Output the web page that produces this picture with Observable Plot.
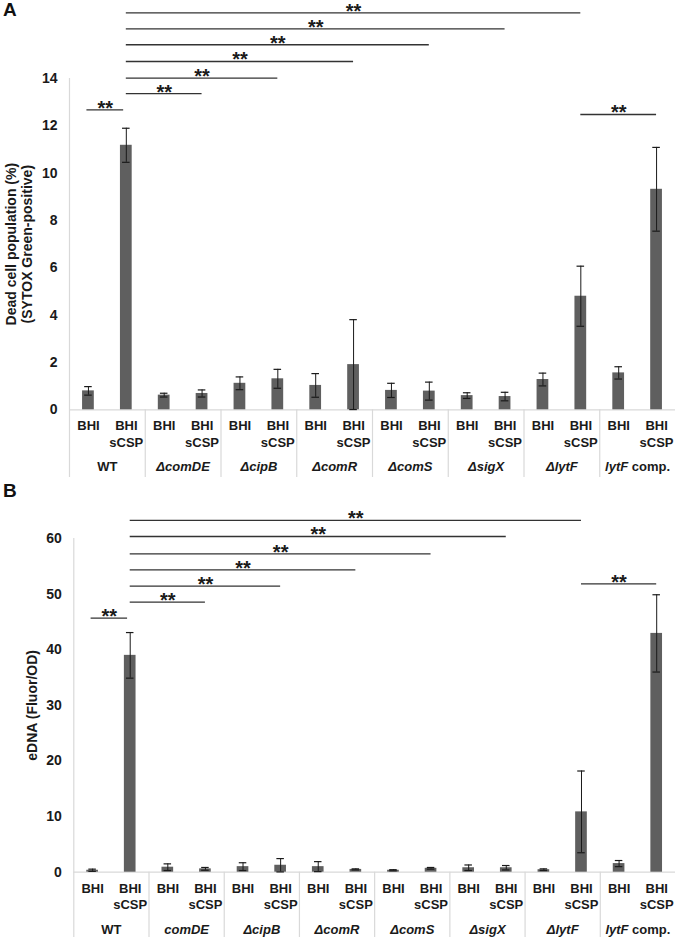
<!DOCTYPE html>
<html><head><meta charset="utf-8">
<script src="https://cdn.jsdelivr.net/npm/d3@7"></script>
<script src="https://cdn.jsdelivr.net/npm/@observablehq/plot@0.6"></script>
<style>
body{margin:0;background:#fff;font-family:"Liberation Sans",Arial,sans-serif;}
#wrap{position:relative;width:675px;height:937px;overflow:hidden;}
#a,#b{position:absolute;left:0;}
#a{top:0}
#b{top:480px}
#a svg,#b svg{display:block}
.panel{position:absolute;left:3px;font-weight:bold;font-size:19px;line-height:1.1;color:#111;font-family:"Liberation Sans",Arial,sans-serif;}
</style></head><body>
<div id="wrap">
<div id="a"></div><div id="b"></div>
<div class="panel" style="top:0px">A</div>
<div class="panel" style="top:481px">B</div>
</div>
<script>
// ---- data ----
const conditions = ["BHI", "BHI sCSP"];
const groupsA = ["WT", "ΔcomDE", "ΔcipB", "ΔcomR", "ΔcomS", "ΔsigX", "ΔlytF", "lytF comp."];
const groupsB = ["WT", "comDE", "ΔcipB", "ΔcomR", "ΔcomS", "ΔsigX", "ΔlytF", "lytF comp."];

// Panel A: dead cell population (%) — order: per strain BHI, BHI sCSP
const deadMean = [0.80, 11.18, 0.62, 0.69, 1.12, 1.31, 1.03, 1.91, 0.82, 0.79, 0.60, 0.56, 1.28, 4.80, 1.56, 9.32];
const deadErr  = [0.18, 0.72, 0.08, 0.15, 0.27, 0.40, 0.50, 1.90, 0.30, 0.38, 0.12, 0.18, 0.27, 1.27, 0.26, 1.77];
const ticksA = [0, 2, 4, 6, 8, 10, 12, 14];

// Panel B: eDNA (Fluor/OD)
const ednaMean = [0.35, 39.0, 0.90, 0.60, 1.00, 1.25, 1.00, 0.50, 0.35, 0.70, 0.80, 0.80, 0.45, 10.85, 1.55, 42.95];
const ednaErr  = [0.20, 4.10, 0.60, 0.25, 0.70, 1.20, 0.90, 0.10, 0.10, 0.15, 0.50, 0.40, 0.15, 7.35, 0.55, 6.95];
const ticksB = [0, 10, 20, 30, 40, 50, 60];

// significance brackets (bar index from/to, height in data units)
const bracketFromA = [1, 1, 1, 1, 1, 1, -0.04, 13];
const bracketToA   = [3, 5, 7, 9, 11, 13, 0.93, 15];
const bracketYA    = [13.36, 14.02, 14.72, 15.43, 16.10, 16.78, 12.68, 12.48];
const bracketFromB = [1, 1, 1, 1, 1, 1, -0.04, 13];
const bracketToB   = [3, 5, 7, 9, 11, 13, 0.93, 15];
const bracketYB    = [48.56, 51.44, 54.39, 57.27, 60.38, 63.26, 45.68, 51.87];

// ---- drawing ----
const GRAY = "#d9d9d9", BAR = "#5f5f5f", INK = "#1a1a1a";

function panel({means, errs, groups, ticks, bFrom, bTo, bY, yDomain, height, marginLeft, bottom, title, titleLineHeight, titleDx}) {
  const data = means.map((m, i) => ({i, mean: m, err: errs[i], cond: conditions[i % 2]}));
  const brackets = bY.map((y, k) => ({from: bFrom[k], to: bTo[k], level: y}));
  const gdata = groups.map((g, j) => ({g, x: 2 * j + 0.5}));
  const top = ticks[ticks.length - 1];
  const seps = d3.range(1, groups.length).map(j => 2 * j - 0.5);
  return Plot.plot({
    width: 675, height, marginLeft, marginRight: 0, marginTop: 0, marginBottom: 0,
    style: {fontFamily: "'Liberation Sans', Arial, sans-serif", fontWeight: "bold", fontSize: "13px", background: "#fff", color: INK},
    x: {type: "linear", domain: [-0.5, 15.5], axis: null},
    y: {domain: yDomain},
    marks: [
      Plot.ruleY([0], {stroke: GRAY, strokeWidth: 1.2}),
      Plot.ruleX([-0.5], {y1: bottom, y2: top, stroke: GRAY, strokeWidth: 1.2}),
      Plot.ruleX(seps, {x: d => d, y1: 0, y2: bottom, stroke: GRAY, strokeWidth: 1.2}),
      Plot.rectY(data, {x1: d => d.i - 0.155, x2: d => d.i + 0.155, y1: 0, y2: "mean", fill: BAR}),
      Plot.ruleX(data, {x: "i", y1: d => d.mean - d.err, y2: d => d.mean + d.err, stroke: INK, strokeWidth: 1}),
      Plot.ruleY(data, {x1: d => d.i - 0.1, x2: d => d.i + 0.1, y: d => d.mean + d.err, stroke: INK, strokeWidth: 1.2}),
      Plot.ruleY(data, {x1: d => d.i - 0.1, x2: d => d.i + 0.1, y: d => Math.max(0, d.mean - d.err), stroke: INK, strokeWidth: 1.2}),
      Plot.text(data, {x: "i", y: () => 0, text: d => d.cond.split(" ")[0], dy: 16.5, fontSize: 13, fill: INK}),
      Plot.text(data.filter(d => d.cond.includes(" ")), {x: "i", y: () => 0, text: d => d.cond.split(" ")[1], dy: 32.8, fontSize: 13, fill: INK}),
      Plot.text(gdata.filter(d => d.g === "WT"), {x: "x", y: () => 0, text: "g", dy: 57.5, fontSize: 13, fill: INK}),
      Plot.text(gdata.filter(d => d.g !== "WT"), {x: "x", y: () => 0, text: "g", dy: 57.5, fontSize: 13, fill: INK, fontStyle: "italic"}),
      Plot.ruleY(brackets, {x1: "from", x2: "to", y: "level", stroke: "#333", strokeWidth: 1.3}),
      Plot.text(brackets, {x: d => (d.from + d.to) / 2, y: "level", text: () => "**", fontSize: 20, dy: -1.5, fill: INK}),
      Plot.axisY(ticks, {tickSize: 0, tickPadding: 12, fontSize: 14, label: null}),
      Plot.text([title], {x: () => -0.5, y: () => top / 2, text: d => d, rotate: -90, dx: titleDx, fontSize: 14, lineHeight: titleLineHeight, fill: INK})
    ]
  });
}

function italicFix(svg) {
  svg.querySelectorAll("text").forEach(t => {
    if (t.textContent === "lytF comp.") {
      t.textContent = "";
      const a = document.createElementNS("http://www.w3.org/2000/svg", "tspan");
      a.textContent = "lytF";
      const b = document.createElementNS("http://www.w3.org/2000/svg", "tspan");
      b.setAttribute("font-style", "normal");
      b.textContent = " comp.";
      t.appendChild(a); t.appendChild(b);
    }
  });
  return svg;
}

const zeroA = 409.3, pxA = 23.66, hA = 480;
const svgA = panel({
  means: deadMean, errs: deadErr, groups: groupsA, ticks: ticksA,
  bFrom: bracketFromA, bTo: bracketToA, bY: bracketYA,
  yDomain: [-(hA - zeroA) / pxA, zeroA / pxA], height: hA, marginLeft: 69, bottom: -(477 - zeroA) / pxA,
  title: "Dead cell population (%)\n(SYTOX Green-positive)", titleLineHeight: 1.15, titleDx: -51
});
const zeroB = 391.7, pxB = 5.56, hB = 457;
const svgB = panel({
  means: ednaMean, errs: ednaErr, groups: groupsB, ticks: ticksB,
  bFrom: bracketFromB, bTo: bracketToB, bY: bracketYB,
  yDomain: [-(hB - zeroB) / pxB, zeroB / pxB], height: hB, marginLeft: 73.3, bottom: -(hB - zeroB) / pxB,
  title: "eDNA (Fluor/OD)", titleLineHeight: 1.15, titleDx: -42
});
document.getElementById("a").appendChild(italicFix(svgA));
document.getElementById("b").appendChild(italicFix(svgB));
</script>
</body></html>
